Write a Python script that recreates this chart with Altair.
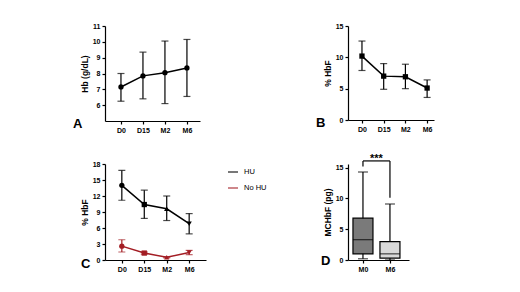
import altair as alt
import pandas as pd

FONT = "Liberation Sans"

times = ["D0", "D15", "M2", "M6"]

# Panel A: Hb (g/dL)
hb_mean = [7.15, 7.85, 8.05, 8.35]
hb_lo = [6.25, 6.4, 6.1, 6.55]
hb_hi = [8.0, 9.35, 10.05, 10.15]

# Panel B: % HbF
hbf_mean = [10.2, 7.0, 6.9, 5.1]
hbf_lo = [7.9, 4.9, 5.0, 3.6]
hbf_hi = [12.6, 9.0, 8.9, 6.4]

# Panel C: % HbF by group
groups = ["HU", "No HU"]
hu_mean = [14.0, 10.4, 9.6, 6.8]
hu_lo = [11.2, 7.8, 7.4, 4.9]
hu_hi = [16.8, 13.1, 12.0, 8.7]
nohu_mean = [2.6, 1.3, 0.5, 1.4]
nohu_lo = [1.5, 1.1, 0.4, 1.0]
nohu_hi = [3.8, 1.5, 0.6, 1.8]

# Panel D: MCHbF (pg) box plots
box_groups = ["M0", "M6"]
box_min = [0.2, 0.0]
box_q1 = [1.0, 0.3]
box_med = [3.3, 1.0]
box_q3 = [6.8, 3.0]
box_max = [14.3, 9.1]
sig_label = "***"
sig_y = 16.1
sig_left_end = 15.2
sig_right_end = 10.1


def letter(txt, dx, dy):
    return alt.Chart(pd.DataFrame({"t": [txt]})).mark_text(
        text=txt, font=FONT, fontSize=13, fontWeight="bold",
        align="left", baseline="alphabetic", color="black"
    ).encode(x=alt.value(dx), y=alt.value(dy))


def xaxis():
    return alt.Axis(title=None, labelAngle=0)


def mean_panel(df, xs, ys, ytitle, yvalues, shape, w, h, let, ldx, ldy):
    base = alt.Chart(df)
    x = alt.X("time:N", sort=times, scale=xs, axis=xaxis())
    yax = alt.Axis(title=ytitle, values=yvalues, titlePadding=3)

    def Y(f):
        return alt.Y(f, scale=ys, axis=yax)

    err = base.mark_rule(color="black", strokeWidth=1.2).encode(x=x, y=Y("lo:Q"), y2="hi:Q")
    cap_hi = base.mark_tick(color="black", thickness=1.2, size=7).encode(x=x, y=Y("hi:Q"))
    cap_lo = base.mark_tick(color="black", thickness=1.2, size=7).encode(x=x, y=Y("lo:Q"))
    line = base.mark_line(color="black", strokeWidth=1.5).encode(x=x, y=Y("mean:Q"))
    pts = base.mark_point(filled=True, color="black", opacity=1, shape=shape, size=28).encode(
        x=x, y=Y("mean:Q"))
    return alt.layer(err, cap_hi, cap_lo, line, pts, letter(let, ldx, ldy)).properties(width=w, height=h)


dfA = pd.DataFrame({"time": times, "mean": hb_mean, "lo": hb_lo, "hi": hb_hi})
chartA = mean_panel(
    dfA,
    alt.Scale(type="point", padding=0.66, align=0.55),
    alt.Scale(domain=[5, 11], nice=False, zero=False),
    "Hb (g/dL)", [6, 7, 8, 9, 10, 11], "circle", 95, 95, "A", -32, 102)

dfB = pd.DataFrame({"time": times, "mean": hbf_mean, "lo": hbf_lo, "hi": hbf_hi})
chartB = mean_panel(
    dfB,
    alt.Scale(type="point", padding=0.48, align=0.67),
    alt.Scale(domain=[0, 15], nice=False),
    "% HbF", [0, 5, 10, 15], "square", 86, 94, "B", -32, 101)

# Panel C
rows = []
for g, m, lo, hi in [("HU", hu_mean, hu_lo, hu_hi), ("No HU", nohu_mean, nohu_lo, nohu_hi)]:
    for t, mv, l, hv in zip(times, m, lo, hi):
        rows.append({"time": t, "group": g, "mean": mv, "lo": l, "hi": hv})
dfC = pd.DataFrame(rows)
xC = alt.X("time:N", sort=times, scale=alt.Scale(type="point", padding=0.75, align=0.5), axis=xaxis())
yC = alt.Scale(domain=[0, 18], nice=False)
yaxC = alt.Axis(title="% HbF", values=[0, 3, 6, 9, 12, 15, 18], titlePadding=3)
col_scale = alt.Scale(domain=groups, range=["black", "#a31d24"])
legC = alt.Legend(
    orient="none", legendX=122, legendY=140, title=None, symbolType="stroke",
    symbolSize=100, symbolStrokeWidth=1.5, labelFont=FONT, labelFontSize=7.5,
    labelFontWeight="normal", labelColor="black", rowPadding=6, labelOffset=5, padding=0)


def YC(f):
    return alt.Y(f, scale=yC, axis=yaxC)


def CC():
    return alt.Color("group:N", scale=col_scale, legend=legC)


baseC = alt.Chart(dfC)
errC = baseC.mark_rule(strokeWidth=1.2).encode(x=xC, y=YC("lo:Q"), y2="hi:Q", color=CC())
capC1 = baseC.mark_tick(thickness=1.2, size=7).encode(x=xC, y=YC("hi:Q"), color=CC())
capC2 = baseC.mark_tick(thickness=1.2, size=7).encode(x=xC, y=YC("lo:Q"), color=CC())
lineC = baseC.mark_line(strokeWidth=1.5).encode(x=xC, y=YC("mean:Q"), color=CC())
ptsC = baseC.mark_point(filled=True, opacity=1, size=28).encode(
    x=xC, y=YC("mean:Q"), color=CC(),
    shape=alt.Shape("time:N", sort=times, scale=alt.Scale(
        domain=times, range=["circle", "square", "triangle-up", "triangle-down"]), legend=None))
chartC = alt.layer(errC, capC1, capC2, lineC, ptsC, letter("C", -24, 104)).properties(width=101, height=96)

# Panel D
dfD = pd.DataFrame({"grp": box_groups, "mn": box_min, "q1": box_q1, "med": box_med,
                    "q3": box_q3, "mx": box_max})
xD = alt.X("grp:N", sort=box_groups, scale=alt.Scale(type="point", padding=0.63, align=0.44), axis=xaxis())
yD = alt.Scale(domain=[0, 15.6], nice=False)
yaxD = alt.Axis(title="MCHbF (pg)", values=[0, 5, 10, 15], titlePadding=3)


def YD(f):
    return alt.Y(f, scale=yD, axis=yaxD)


baseD = alt.Chart(dfD)
whisk = baseD.mark_rule(color="black", strokeWidth=1.2).encode(x=xD, y=YD("mn:Q"), y2="mx:Q")
capD1 = baseD.mark_tick(color="black", thickness=1.2, size=10).encode(x=xD, y=YD("mx:Q"))
capD2 = baseD.mark_tick(color="black", thickness=1.2, size=10).encode(x=xD, y=YD("mn:Q"))
boxes = baseD.mark_bar(size=20, stroke="black", strokeWidth=1.2, opacity=1).encode(
    x=xD, y=YD("q1:Q"), y2="q3:Q",
    fill=alt.Fill("grp:N", scale=alt.Scale(domain=box_groups, range=["#7a7a7a", "#d9d9d9"]), legend=None))
medD = baseD.mark_tick(color="black", thickness=1.2, size=20).encode(x=xD, y=YD("med:Q"))

dfS = pd.DataFrame({"grp": box_groups, "y": [sig_y, sig_y], "y2": [sig_left_end, sig_right_end]})
sigV = alt.Chart(dfS).mark_rule(color="black", strokeWidth=1.2).encode(x=xD, y=YD("y:Q"), y2="y2:Q")
sigH = alt.Chart(pd.DataFrame({"a": [box_groups[0]], "b": [box_groups[1]], "y": [sig_y]})).mark_rule(
    color="black", strokeWidth=1.2).encode(
    x=alt.X("a:N", sort=box_groups, scale=alt.Scale(type="point", padding=0.63, align=0.44), axis=xaxis()),
    x2="b:N", y=YD("y:Q"))
sigT = alt.Chart(pd.DataFrame({"grp": [box_groups[0]], "y": [sig_y], "t": [sig_label]})).mark_text(
    font=FONT, fontSize=11, fontWeight="bold", align="center", baseline="alphabetic", dx=13.5, dy=1,
    color="black").encode(x=xD, y=YD("y:Q"), text="t:N")
chartD = alt.layer(whisk, capD1, capD2, boxes, medD, sigV, sigH, sigT, letter("D", -27, 101)).properties(
    width=61, height=96)

chart = alt.concat(
    chartA, chartB, chartC, chartD, columns=2,
    spacing={"row": 43, "column": 142}, bounds="flush", align="none"
).properties(
    padding={"left": 73, "top": 22, "right": 5, "bottom": 5}
).configure(
    background="white"
).configure_axis(
    labelFont=FONT, labelFontSize=7, labelFontWeight="bold", labelColor="black",
    titleFont=FONT, titleFontSize=8.5, titleFontWeight="bold", titleColor="black",
    domainColor="black", domainWidth=1.2, tickColor="black", tickWidth=1.2,
    tickSize=3, labelPadding=2, grid=False, labelOverlap=False
).configure_view(stroke=None)

chart.save("out.html", embed_options={"renderer": "svg", "actions": False})
